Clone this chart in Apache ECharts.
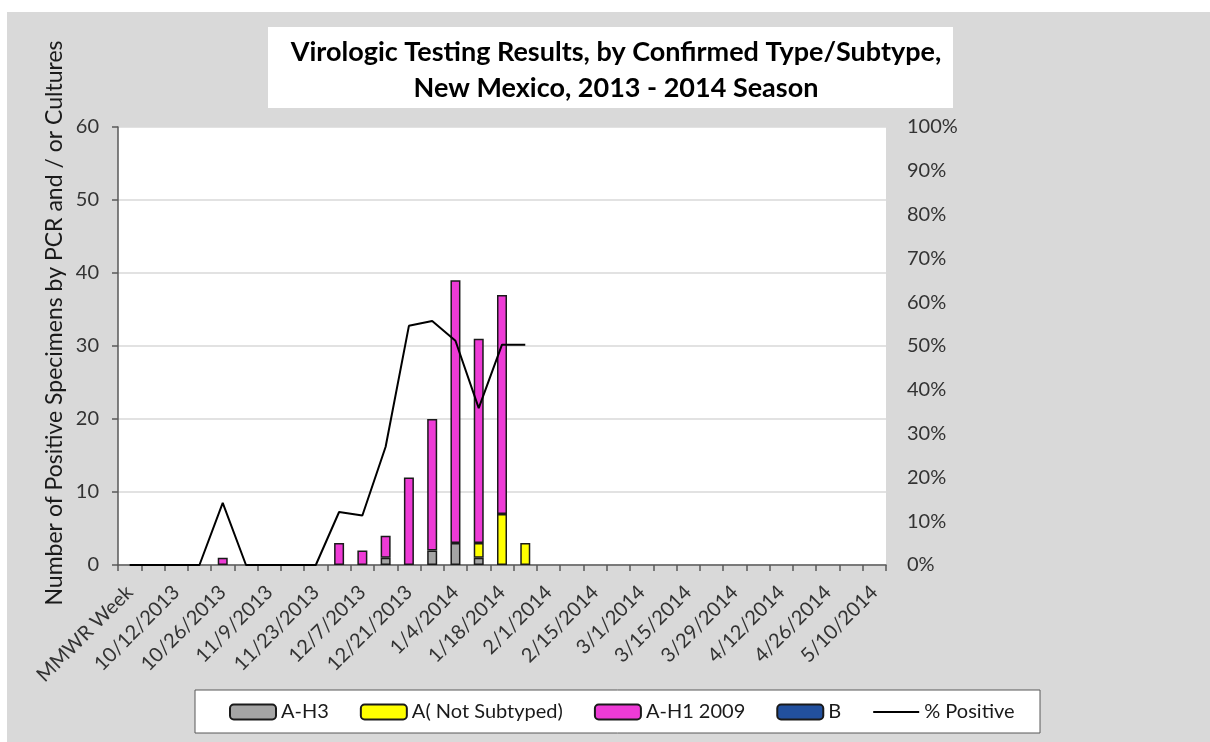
<!DOCTYPE html>
<html>
<head>
<meta charset="utf-8">
<script src="https://cdn.jsdelivr.net/npm/echarts@6/dist/echarts.min.js"></script>
<style>
html,body{margin:0;padding:0;background:#ffffff;}
#chart{width:1210px;height:742px;}
</style>
</head>
<body>
<div id="chart"></div>
<script>
// ---- data ----
var categories = ['MMWR Week','10/5/2013','10/12/2013','10/19/2013','10/26/2013','11/2/2013','11/9/2013','11/16/2013','11/23/2013','11/30/2013','12/7/2013','12/14/2013','12/21/2013','12/28/2013','1/4/2014','1/11/2014','1/18/2014','1/25/2014','2/1/2014','2/8/2014','2/15/2014','2/22/2014','3/1/2014','3/8/2014','3/15/2014','3/22/2014','3/29/2014','4/5/2014','4/12/2014','4/19/2014','4/26/2014','5/3/2014','5/10/2014'];
var aH3      = [null,null,null,null,null,null,null,null,null,null,null,1,null,2,3,1,null,null,null,null,null,null,null,null,null,null,null,null,null,null,null,null,null];
var aNotSub  = [null,null,null,null,null,null,null,null,null,null,null,null,null,null,null,2,7,3,null,null,null,null,null,null,null,null,null,null,null,null,null,null,null];
var aH1_2009 = [null,null,null,null,1,null,null,null,null,3,2,3,12,18,36,28,30,null,null,null,null,null,null,null,null,null,null,null,null,null,null,null,null];
var bVals    = [null,null,null,null,null,null,null,null,null,null,null,null,null,null,null,null,null,null,null,null,null,null,null,null,null,null,null,null,null,null,null,null,null];
var pctPositive = [0,0,0,0,14.2,0,0,0,0,12.1,11.3,27.0,54.6,55.7,51.2,35.8,50.3,50.3,null,null,null,null,null,null,null,null,null,null,null,null,null,null,null];
var leftTicks = {min:0, max:60, interval:10};
var rightTicks = {min:0, max:100, interval:10};
var seriesNames = ['A-H3','A( Not Subtyped)','A-H1 2009','B','% Positive'];
var titleLines = ['Virologic Testing Results, by Confirmed Type/Subtype,','New Mexico, 2013 - 2014 Season'];
var yAxisTitle = 'Number of Positive Specimens by PCR and / or Cultures';

// ---- chart ----
var FONT = 'Lato, "Open Sans", sans-serif';
var chart = echarts.init(document.getElementById('chart'), null, {renderer:'canvas'});
var barBorder = {borderColor:'#1a1a1a', borderWidth:1.5};
function barSeries(name, data, color){
  return {name:name, type:'bar', stack:'total', data:data, barWidth:10,
    itemStyle:Object.assign({color:color}, barBorder), emphasis:{disabled:true}};
}
var option = {
  animation:false,
  backgroundColor:'#ffffff',
  graphic:[
    {type:'rect', z:-10, shape:{x:7,y:12,width:1203,height:730}, style:{fill:'#d9d9d9'}, silent:true},
    {type:'rect', z:-5, shape:{x:268,y:27,width:685,height:81}, style:{fill:'#ffffff'}, silent:true},
    {type:'rect', z:-5, shape:{x:195,y:690,width:845,height:43}, style:{fill:'#ffffff', stroke:'#595959', lineWidth:1}, silent:true},
    {type:'text', x:55, y:323, rotation:Math.PI/2, style:{text:yAxisTitle, font:'23px ' + FONT, fill:'#1a1a1a', align:'center', verticalAlign:'middle'}, silent:true}
  ],
  title:{
    text:titleLines.join('\n'), left:611, top:29, textAlign:'center',
    textStyle:{fontFamily:FONT, fontSize:27, fontWeight:'bold', color:'#000', lineHeight:36}
  },
  legend:{
    left:224, top:697, itemWidth:46, itemHeight:15, itemGap:31,
    textStyle:{fontFamily:FONT, fontSize:20, color:'#1a1a1a'},
    data:[seriesNames[0], seriesNames[1], seriesNames[2], seriesNames[3],
          {name:seriesNames[4], itemStyle:{opacity:0}}]
  },
  grid:{left:118, top:127, right:324, bottom:177, containLabel:false,
        show:true, backgroundColor:'#ffffff', borderWidth:0},
  xAxis:{
    type:'category', data:categories, boundaryGap:true,
    axisLine:{lineStyle:{color:'#595959', width:1.5}},
    axisTick:{show:true, interval:0, length:6, lineStyle:{color:'#595959', width:1.5}},
    axisLabel:{interval:1, rotate:45, margin:24, fontFamily:FONT, fontSize:20, color:'#333'}
  },
  yAxis:[
    {type:'value', min:leftTicks.min, max:leftTicks.max, interval:leftTicks.interval,
     axisLine:{show:true, lineStyle:{color:'#595959', width:1.5}},
     axisTick:{show:true, length:6, lineStyle:{color:'#595959', width:1.5}},
     axisLabel:{margin:19, fontFamily:FONT, fontSize:20, color:'#333'},
     splitLine:{show:true, lineStyle:{color:'#d9d9d9', width:1.5}}},
    {type:'value', min:rightTicks.min, max:rightTicks.max, interval:rightTicks.interval, position:'right',
     axisLine:{show:false}, axisTick:{show:false},
     axisLabel:{margin:21, formatter:'{value}%', fontFamily:FONT, fontSize:20, color:'#333'},
     splitLine:{show:false}}
  ],
  series:[
    barSeries(seriesNames[0], aH3, '#a5a5a5'),
    barSeries(seriesNames[1], aNotSub, '#ffff00'),
    barSeries(seriesNames[2], aH1_2009, '#ee3bd6'),
    barSeries(seriesNames[3], bVals, '#22509e'),
    {name:seriesNames[4], type:'line', yAxisIndex:1, data:pctPositive, symbol:'none',
     lineStyle:{color:'#000', width:2}, itemStyle:{color:'#000'}, z:5, emphasis:{disabled:true}}
  ]
};
chart.setOption(option);
</script>
</body>
</html>
